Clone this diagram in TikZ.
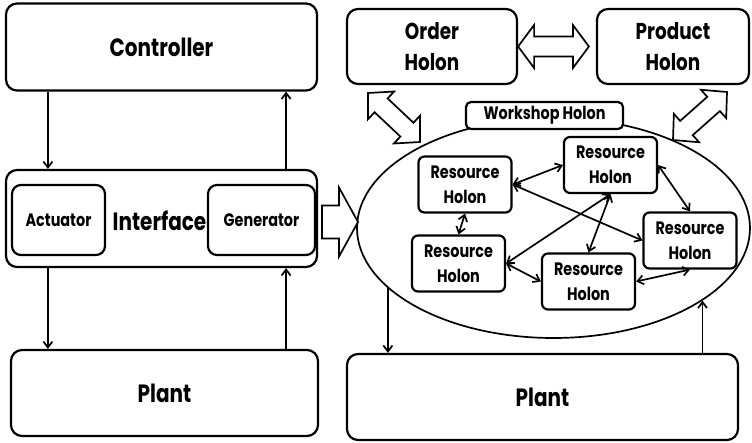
\documentclass[tikz,border=0pt]{standalone}
\usepackage{fontspec}
\setmainfont{Poppins}[FakeStretch=0.8]
\usetikzlibrary{calc,arrows.meta,shapes.geometric}
\def\dblarrow[#1](#2)(#3)(#4:#5:#6){\coordinate (da1) at ($(#2)!#4!(#3)$); \coordinate (da2) at ($(#3)!#4!(#2)$); \draw[#1] (#2) -- ($(da1)!#5!90:(#3)$) -- ($(da1)!#6!90:(#3)$) -- ($(da2)!#6!-90:(#2)$) -- ($(da2)!#5!-90:(#2)$) -- (#3) -- ($(da2)!#5!90:(#2)$) -- ($(da2)!#6!90:(#2)$) -- ($(da1)!#6!-90:(#3)$) -- ($(da1)!#5!-90:(#3)$) -- cycle;}
\def\sglarrow[#1](#2)(#3)(#4:#5:#6){\coordinate (sa1) at ($(#3)!#4!(#2)$); \draw[#1] ($(#2)!#6!90:(#3)$) -- ($(sa1)!#6!-90:(#2)$) -- ($(sa1)!#5!-90:(#2)$) -- (#3) -- ($(sa1)!#5!90:(#2)$) -- ($(sa1)!#6!90:(#2)$) -- ($(#2)!#6!-90:(#3)$) -- cycle;}
\tikzset{
	box/.style={draw, line width=2.2pt, rounded corners=11pt, align=center, inner sep=0pt},
	bigtext/.style={font=\bfseries\fontsize{25}{30}\selectfont},
	holtext/.style={font=\bfseries\fontsize{23}{31}\selectfont},
	smalltext/.style={font=\bfseries\fontsize{18}{25}\selectfont},
	resbox/.style={box, fill=white, rounded corners=6pt, minimum width=93pt, minimum height=56pt, smalltext},
	link/.style={{Straight Barb[length=6pt,width=9pt]}-{Straight Barb[length=6pt,width=9pt]}, line width=1.7pt},
	flow/.style={-{Straight Barb[length=6pt,width=9pt]}, line width=1.7pt},
	hollow/.style={line width=1.7pt, fill=white, line join=miter}
}
\begin{document}
\begin{tikzpicture}[x=1pt, y=-1pt]
			%%%%% START %%%%%
			\useasboundingbox (0,0) rectangle (752,442);
			
			% left side
			\node[box, bigtext, minimum width=311pt, minimum height=87pt] (ctrl) at (161.5,47) {Controller};
			\node[box, minimum width=311pt, minimum height=97pt] (iface) at (161.5,218.5) {};
			\node[box, smalltext, rounded corners=9pt, minimum width=93pt, minimum height=70pt] (act) at (58.5,220) {Actuator};
			\node[box, smalltext, rounded corners=9pt, minimum width=107pt, minimum height=70pt] (gen) at (261.5,220) {Generator};
			\node[bigtext] (ifacetext) at (159.5,221) {Interface};
			\node[box, bigtext, minimum width=307pt, minimum height=86pt] (plantl) at (164.5,393) {Plant};
			
			\draw[flow] ($(ctrl.south west)+(43,0)$) -- ($(iface.north west)+(43,0)$);
			\draw[flow] ($(iface.north east)+(-32,0)$) -- ($(ctrl.south east)+(-32,0)$);
			\draw[flow] ($(iface.south west)+(43,0)$) -- ($(plantl.north west)+(38,0)$);
			\draw[flow] ($(plantl.north east)+(-33,0)$) -- ($(iface.south east)+(-32,0)$);
			
			% right side
			\node[ellipse, draw, line width=1.7pt, minimum width=393pt, minimum height=220pt] (ws) at (553.5,228) {};
			\node[box, smalltext, fill=white, rounded corners=5pt, minimum width=157pt, minimum height=27pt] (wslabel) at (544.5,115.5) {Workshop Holon};
			\node[box, holtext, minimum width=170pt, minimum height=75pt] (order) at (432,46.5) {Order\\Holon};
			\node[box, holtext, minimum width=152pt, minimum height=75pt] (product) at (673,46.5) {Product\\Holon};
			
			\coordinate (prodleft) at ($(product.west)+(-7,0)$);
			\coordinate (ordertip) at (368,93);
			\coordinate (orderend) at (420,142);
			\coordinate (prodtip) at (727,92);
			\coordinate (prodend) at (673,140);
			\coordinate (ifacetip) at (322,222);
			\coordinate (ifaceend) at (358,222);
			\dblarrow[hollow](order.east)(prodleft)(16pt:21.5pt:10pt)
			\dblarrow[hollow](ordertip)(orderend)(18pt:19pt:9.5pt)
			\dblarrow[hollow](prodtip)(prodend)(18pt:19pt:9.5pt)
			\sglarrow[hollow](ifacetip)(ifaceend)(19pt:34.5pt:16.5pt)
			
			\node[resbox] (r1) at (465,184.5) {Resource\\Holon};
			\node[resbox] (r2) at (610.5,165) {Resource\\Holon};
			\node[resbox] (r3) at (458.5,263.5) {Resource\\Holon};
			\node[resbox] (r4) at (588.5,281.5) {Resource\\Holon};
			\node[resbox] (r5) at (690,240.5) {Resource\\Holon};
			
			\draw[link] (r1.east) -- (r2.west);
			\draw[link] (r1.east) -- (r5.west);
			\draw[link] (r1.south) -- (r3.north);
			\draw[link] (r2.south) -- (r3.east);
			\draw[link] (r2.south) -- (r4.north);
			\draw[link] (r2.east) -- (r5.north);
			\draw[link] (r3.east) -- (r4.west);
			\draw[link] (r4.east) -- (r5.south);
			
			\node[box, bigtext, minimum width=391pt, minimum height=86pt] (plantr) at (542.5,397) {Plant};
			\draw[flow] (ws.200) -- (ws.200 |- plantr.north);
			\draw[flow] (ws.334 |- plantr.north) -- (ws.334);
			%%%%% END %%%%%
\end{tikzpicture}
\end{document}
